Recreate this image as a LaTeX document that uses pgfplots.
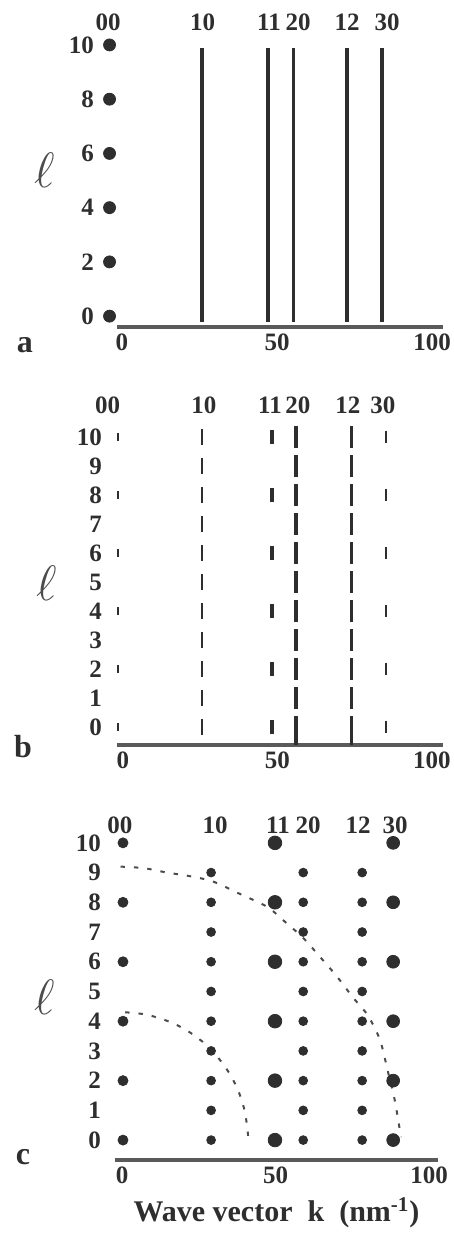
\documentclass[border=0pt]{standalone}
\usepackage{fontspec}
\setmainfont{Liberation Serif}
\usepackage{pgfplots}
\pgfplotsset{compat=1.18}
\definecolor{ink}{HTML}{2E2E2E}
\definecolor{baseln}{HTML}{5A5A5A}

\pgfplotsset{
  panel/.style={
    scale only axis,
    anchor=south west,
    clip=false,
    axis x line*=bottom,
    axis y line*=left,
    y axis line style={draw=none},
    x axis line style={line width=1.8pt, baseln},
    major tick length=0pt,
    xtick={0,50,100},
    tick label style={font=\fontsize{12.5}{14}\selectfont\bfseries, text=ink},
    /pgf/number format/assume math mode=true,
  },
}
\tikzset{hkl/.style={font=\fontsize{12.5}{14}\selectfont\bfseries, text=ink}}

\begin{document}
\begin{tikzpicture}
\useasboundingbox (0,0) rectangle (227pt,620.5pt);

% ---- panel a
\begin{axis}[panel, at={(58.5pt,457pt)}, width=163pt, height=147.8pt,
  xmin=-1.6, xmax=103.5, ymin=-0.4, ymax=10.5,
  ytick={0,2,...,10}, yticklabel style={xshift=-8pt}]
\addplot[only marks, mark=*, mark size=3pt, ink] coordinates {(-4,0) (-4,2) (-4,4) (-4,6) (-4,8) (-4,10)};
\addplot[line width=1.9pt, ink] coordinates {(25.8,-0.2) (25.8,9.9)};
\addplot[line width=1.9pt, ink] coordinates {(47,-0.2) (47,9.9)};
\addplot[line width=1.9pt, ink] coordinates {(55.3,-0.2) (55.3,9.9)};
\addplot[line width=1.9pt, ink] coordinates {(72.6,-0.2) (72.6,9.9)};
\addplot[line width=1.9pt, ink] coordinates {(83.9,-0.2) (83.9,9.9)};
\node[hkl] at (axis cs:-4.5,10.85) {00};
\node[hkl] at (axis cs:26,10.85) {10};
\node[hkl] at (axis cs:47.4,10.85) {11};
\node[hkl] at (axis cs:56.8,10.85) {20};
\node[hkl] at (axis cs:72.6,10.85) {12};
\node[hkl] at (axis cs:85.5,10.85) {30};
\end{axis}

% ---- panel b
\begin{axis}[panel, at={(58.5pt,248pt)}, width=163pt, height=161.25pt,
  xmin=-1.9, xmax=103.6, ymin=-0.62, ymax=10.5,
  ytick={0,1,...,10}, yticklabel style={xshift=-4pt}]
\addplot[only marks, mark=|, mark size=1.8pt, mark options={line width=0.8pt}, ink] coordinates {(-1.6,0) (-1.6,2) (-1.6,4) (-1.6,6) (-1.6,8) (-1.6,10)};
\addplot[only marks, mark=|, mark size=3.8pt, mark options={line width=1.1pt}, ink] coordinates {(25.6,0) (25.6,1) (25.6,2) (25.6,3) (25.6,4) (25.6,5) (25.6,6) (25.6,7) (25.6,8) (25.6,9) (25.6,10)};
\addplot[only marks, mark=|, mark size=3.6pt, mark options={line width=1.7pt}, ink] coordinates {(48.2,0) (48.2,2) (48.2,4) (48.2,6) (48.2,8) (48.2,10)};
\addplot[only marks, mark=|, mark size=5.3pt, mark options={line width=1.6pt}, ink] coordinates {(56,0) (56,1) (56,2) (56,3) (56,4) (56,5) (56,6) (56,7) (56,8) (56,9) (56,10)};
\addplot[line width=1.6pt, ink] coordinates {(56,-0.62) (56,0.1)};
\addplot[only marks, mark=|, mark size=5.3pt, mark options={line width=1.4pt}, ink] coordinates {(74.1,0) (74.1,1) (74.1,2) (74.1,3) (74.1,4) (74.1,5) (74.1,6) (74.1,7) (74.1,8) (74.1,9) (74.1,10)};
\addplot[line width=1.4pt, ink] coordinates {(74.1,-0.62) (74.1,0.1)};
\addplot[only marks, mark=|, mark size=3.2pt, mark options={line width=1.1pt}, ink] coordinates {(85.1,0) (85.1,2) (85.1,4) (85.1,6) (85.1,8) (85.1,10)};
\node[hkl] at (axis cs:-4.9,11.1) {00};
\node[hkl] at (axis cs:26.2,11.1) {10};
\node[hkl] at (axis cs:47.6,11.1) {11};
\node[hkl] at (axis cs:56.6,11.1) {20};
\node[hkl] at (axis cs:72.8,11.1) {12};
\node[hkl] at (axis cs:84.1,11.1) {30};
\end{axis}

% ---- panel c
\begin{axis}[panel, at={(57.5pt,40.5pt)}, width=161.5pt, height=166pt,
  xmin=-2.3, xmax=102.9, ymin=-0.67, ymax=10.5,
  ytick={0,1,...,10}, yticklabel style={xshift=-3.5pt},
  xlabel={Wave vector\ \ k\ \ (nm\textsuperscript{-1})},
  xlabel style={font=\fontsize{15}{17}\selectfont\bfseries, text=ink}]
\addplot[only marks, mark=*, mark size=2.5pt, ink] coordinates {(0.3,0) (0.3,2) (0.3,4) (0.3,6) (0.3,8) (0.3,10)};
\addplot[only marks, mark=*, mark size=2.2pt, ink] coordinates {(29,0) (29,1) (29,2) (29,3) (29,4) (29,5) (29,6) (29,7) (29,8) (29,9)};
\addplot[only marks, mark=*, mark size=3.4pt, ink] coordinates {(49.8,0) (49.8,2) (49.8,4) (49.8,6) (49.8,8) (49.8,10)};
\addplot[only marks, mark=*, mark size=2.2pt, ink] coordinates {(59,0) (59,1) (59,2) (59,3) (59,4) (59,5) (59,6) (59,7) (59,8) (59,9)};
\addplot[only marks, mark=*, mark size=2.2pt, ink] coordinates {(78.2,0) (78.2,1) (78.2,2) (78.2,3) (78.2,4) (78.2,5) (78.2,6) (78.2,7) (78.2,8) (78.2,9)};
\addplot[only marks, mark=*, mark size=3.2pt, ink] coordinates {(88.3,0) (88.3,2) (88.3,4) (88.3,6) (88.3,8) (88.3,10)};
% dashed guide curves
\addplot[black!70, line width=1pt, dash pattern=on 2.2pt off 4.5pt, smooth] coordinates {(1,4.3) (8,4.22) (16,3.96) (22,3.63) (27,3.24) (31,2.81) (35,2.24) (38,1.62) (40,0.95) (41,0.2) (41.2,-0.15)};
\addplot[black!70, line width=1pt, dash pattern=on 2.2pt off 4.5pt, smooth] coordinates {(-0.5,9.2) (7,9.15) (14.7,9.0) (22,8.88) (29.6,8.7) (38,8.3) (47.2,7.85) (53,7.35) (59,6.8) (64.5,6.16) (70,5.5) (75.2,4.8) (80,4.2) (84,3.37) (86.6,2.3) (88.8,1.35) (90.3,0.44) (90.8,0.1)};
\node[hkl] at (axis cs:-0.7,10.6) {00};
\node[hkl] at (axis cs:30.3,10.6) {10};
\node[hkl] at (axis cs:50.8,10.6) {11};
\node[hkl] at (axis cs:60.6,10.6) {20};
\node[hkl] at (axis cs:76.9,10.6) {12};
\node[hkl] at (axis cs:88.9,10.6) {30};
\end{axis}

% panel letters and axis symbols
\node[font=\fontsize{16}{18}\selectfont\bfseries, text=ink] at (12.5pt,448pt) {a};
\node[font=\fontsize{16}{18}\selectfont\bfseries, text=ink] at (11.5pt,247pt) {b};
\node[font=\fontsize{16}{18}\selectfont\bfseries, text=ink] at (11.5pt,42pt) {c};
\node[text=black!70, font=\fontsize{26}{28}\selectfont] at (22.5pt,535.5pt) {$\ell$};
\node[text=black!70, font=\fontsize{26}{28}\selectfont] at (23.5pt,329pt) {$\ell$};
\node[text=black!70, font=\fontsize{26}{28}\selectfont] at (22.5pt,122pt) {$\ell$};
\end{tikzpicture}
\end{document}
